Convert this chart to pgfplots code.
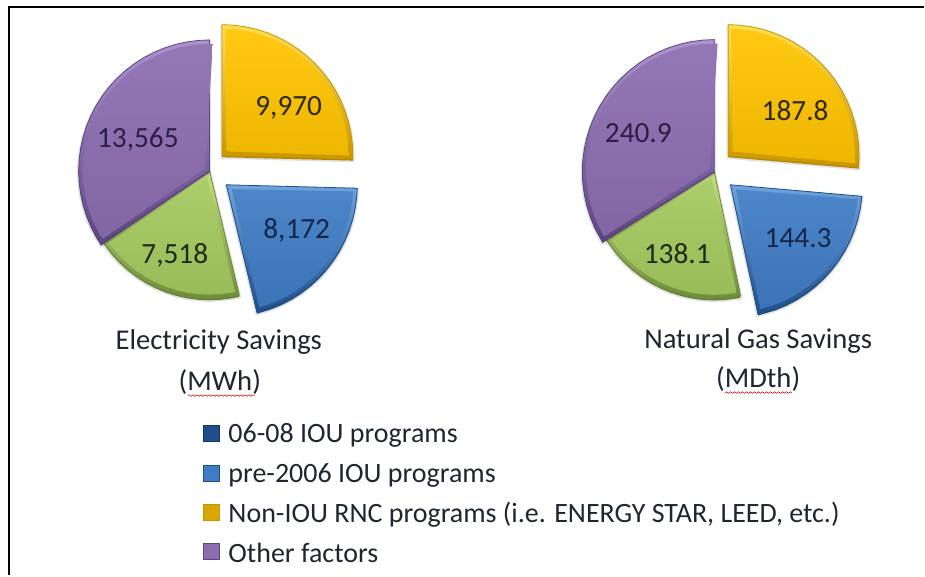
\documentclass[border=0pt]{standalone}
\usepackage{pgfplots}
\pgfplotsset{compat=1.18}
\usepackage{fontspec}
\usetikzlibrary{decorations.pathmorphing}
\setmainfont{Carlito}
\definecolor{txt}{HTML}{1F2630}
\definecolor{yl}{HTML}{FFC400}\definecolor{ylL}{HTML}{FFDE50}\definecolor{ylD}{HTML}{C99600}
\definecolor{bl}{HTML}{3F7CC4}\definecolor{blL}{HTML}{6FA3DE}\definecolor{blD}{HTML}{1F4F8A}
\definecolor{gr}{HTML}{A5C95F}\definecolor{grL}{HTML}{C6E080}\definecolor{grD}{HTML}{6F8C3A}
\definecolor{pu}{HTML}{8C6DB0}\definecolor{puL}{HTML}{AD92CE}\definecolor{puD}{HTML}{5C4680}
\definecolor{lY}{HTML}{2E2A12}\definecolor{lB}{HTML}{14264A}\definecolor{lG}{HTML}{1E2A14}\definecolor{lP}{HTML}{2C1F45}
% one pixel of the reference = 0.75pt
\pgfplotsset{
 wedge/.style n args={2}{preaction={draw=black,draw opacity=.12,line width=2.5pt,transform canvas={yshift=-1.2pt}},draw=#2,line width=0.6pt,top color=#1,bottom color=#2,forget plot},
 core/.style={draw=none,top color=#1!93!white,bottom color=#1!93!black,forget plot},
 ey/.style={xshift=166.7pt,yshift=315.2pt},
 eb/.style={xshift=170pt,yshift=293.25pt},
 ec/.style={xshift=157.3pt,yshift=303.75pt},
 gy/.style={xshift=546.75pt,yshift=315.2pt},
 gb/.style={xshift=548.5pt,yshift=293.25pt},
 gc/.style={xshift=536.25pt,yshift=303.25pt},
}
\begin{document}
\begin{tikzpicture}
\begin{axis}[x=0.75pt,y=0.75pt,xmin=0,xmax=925,ymin=0,ymax=576,
  scale only axis,hide axis,clip=false,anchor=origin,at={(0,0)}]
% page extent
\addplot[draw=none,forget plot] coordinates {(0,0)(925,576)};
% frame
\addplot[black,line width=1.5pt,forget plot] coordinates {(9,0)(9,569)(925,569)};
% ---------- Electricity: yellow 9,970
\addplot[ey,data cs=polar,wedge={ylL}{ylD}] coordinates {(0,0)(90,131)(85,131)(80,131)(75,131)(70,131)(65,131)(60,131)(55,131)(50,131)(45,131)(40,131)(35,131)(30,131)(25,131)(20,131)(15,131)(10,131)(5,131)(0,131)(-1.5,131)} -- cycle;
\addplot[ey,data cs=polar,core=yl] coordinates {(44,6)(88.5,127)(85,127)(80,127)(75,127)(70,127)(65,127)(60,127)(55,127)(50,127)(45,127)(40,127)(35,127)(30,127)(25,127)(20,127)(15,127)(10,127)(5,127)(0,127)} -- cycle;
% ---------- Electricity: blue 8,172
\addplot[eb,data cs=polar,wedge={blL}{blD}] coordinates {(0,0)(-1.5,131)(-5,131)(-10,131)(-15,131)(-20,131)(-25,131)(-30,131)(-35,131)(-40,131)(-45,131)(-50,131)(-55,131)(-60,131)(-65,131)(-70,131)(-76.5,131)} -- cycle;
\addplot[eb,data cs=polar,core=bl] coordinates {(-39,7)(-3,127)(-5,127)(-10,127)(-15,127)(-20,127)(-25,127)(-30,127)(-35,127)(-40,127)(-45,127)(-50,127)(-55,127)(-60,127)(-65,127)(-70,127)(-75,127)} -- cycle;
% ---------- Electricity: green 7,518
\addplot[ec,data cs=polar,wedge={grL}{grD}] coordinates {(0,0)(-76.5,128)(-80,128)(-85,128)(-90,128)(-95,128)(-100,128)(-105,128)(-110,128)(-115,128)(-120,128)(-125,128)(-130,128)(-135,128)(-140,128)(-146,128)} -- cycle;
\addplot[ec,data cs=polar,core=gr] coordinates {(-111,7)(-78,124)(-80,124)(-85,124)(-90,124)(-95,124)(-100,124)(-105,124)(-110,124)(-115,124)(-120,124)(-125,124)(-130,124)(-135,124)(-140,124)(-144.5,124)} -- cycle;
% ---------- Electricity: purple 13,565
\addplot[ec,data cs=polar,wedge={puL}{puD}] coordinates {(0,0)(90,131)(95,131)(100,131)(105,131)(110,131)(115,131)(120,131)(125,131)(130,131)(135,131)(140,131)(145,131)(150,131)(155,131)(160,131)(165,131)(170,131)(175,131)(180,131)(185,131)(190,131)(195,131)(200,131)(205,131)(210,131)(214,131)} -- cycle;
\addplot[ec,data cs=polar,core=pu] coordinates {(152,5)(88.5,127)(95,127)(100,127)(105,127)(110,127)(115,127)(120,127)(125,127)(130,127)(135,127)(140,127)(145,127)(150,127)(155,127)(160,127)(165,127)(170,127)(175,127)(180,127)(185,127)(190,127)(195,127)(200,127)(205,127)(210,127)(212.5,127)} -- cycle;
% ---------- Gas: yellow 187.8
\addplot[gy,data cs=polar,wedge={ylL}{ylD}] coordinates {(0,0)(90,131)(85,131)(80,131)(75,131)(70,131)(65,131)(60,131)(55,131)(50,131)(45,131)(40,131)(35,131)(30,131)(25,131)(20,131)(15,131)(10,131)(5,131)(0,131)(-5,131)} -- cycle;
\addplot[gy,data cs=polar,core=yl] coordinates {(42,6)(88.5,127)(85,127)(80,127)(75,127)(70,127)(65,127)(60,127)(55,127)(50,127)(45,127)(40,127)(35,127)(30,127)(25,127)(20,127)(15,127)(10,127)(5,127)(0,127)(-3.5,127)} -- cycle;
% ---------- Gas: blue 144.3
\addplot[gb,data cs=polar,wedge={blL}{blD}] coordinates {(0,0)(-5,132)(-10,132)(-15,132)(-20,132)(-25,132)(-30,132)(-35,132)(-40,132)(-45,132)(-50,132)(-55,132)(-60,132)(-65,132)(-70,132)(-78,132)} -- cycle;
\addplot[gb,data cs=polar,core=bl] coordinates {(-41,7)(-6.5,128)(-10,128)(-15,128)(-20,128)(-25,128)(-30,128)(-35,128)(-40,128)(-45,128)(-50,128)(-55,128)(-60,128)(-65,128)(-70,128)(-76.5,128)} -- cycle;
% ---------- Gas: green 138.1
\addplot[gc,data cs=polar,wedge={grL}{grD}] coordinates {(0,0)(-78,127.5)(-80,127.5)(-85,127.5)(-90,127.5)(-95,127.5)(-100,127.5)(-105,127.5)(-110,127.5)(-115,127.5)(-120,127.5)(-125,127.5)(-130,127.5)(-135,127.5)(-140,127.5)(-148,127.5)} -- cycle;
\addplot[gc,data cs=polar,core=gr] coordinates {(-113,7)(-79.5,123.5)(-85,123.5)(-90,123.5)(-95,123.5)(-100,123.5)(-105,123.5)(-110,123.5)(-115,123.5)(-120,123.5)(-125,123.5)(-130,123.5)(-135,123.5)(-140,123.5)(-146.5,123.5)} -- cycle;
% ---------- Gas: purple 240.9
\addplot[gc,data cs=polar,wedge={puL}{puD}] coordinates {(0,0)(90,132)(95,132)(100,132)(105,132)(110,132)(115,132)(120,132)(125,132)(130,132)(135,132)(140,132)(145,132)(150,132)(155,132)(160,132)(165,132)(170,132)(175,132)(180,132)(185,132)(190,132)(195,132)(200,132)(205,132)(212,132)} -- cycle;
\addplot[gc,data cs=polar,core=pu] coordinates {(151,5)(88.5,128)(95,128)(100,128)(105,128)(110,128)(115,128)(120,128)(125,128)(130,128)(135,128)(140,128)(145,128)(150,128)(155,128)(160,128)(165,128)(170,128)(175,128)(180,128)(185,128)(190,128)(195,128)(200,128)(205,128)(210.5,128)} -- cycle;
% data labels
\node[font=\fontsize{22}{24}\selectfont,text=lY] at (axis cs:289,468) {9,970};
\node[font=\fontsize{22}{24}\selectfont,text=lB] at (axis cs:297,345) {8,172};
\node[font=\fontsize{22}{24}\selectfont,text=lG] at (axis cs:175,320) {7,518};
\node[font=\fontsize{22}{24}\selectfont,text=lP] at (axis cs:138,436) {13,565};
\node[font=\fontsize{22}{24}\selectfont,text=lY] at (axis cs:796,465) {187.8};
\node[font=\fontsize{22}{24}\selectfont,text=lB] at (axis cs:799,338) {144.3};
\node[font=\fontsize{22}{24}\selectfont,text=lG] at (axis cs:678,322) {138.1};
\node[font=\fontsize{22}{24}\selectfont,text=lP] at (axis cs:639,443) {240.9};
% captions
\node[font=\fontsize{21.5}{24}\selectfont,text=txt] at (axis cs:219,234) {Electricity Savings};
\node[font=\fontsize{21.5}{24}\selectfont,text=txt] at (axis cs:220,194) {(MWh)};
\node[font=\fontsize{21.5}{24}\selectfont,text=txt] at (axis cs:759,235) {Natural Gas Savings};
\node[font=\fontsize{21.5}{24}\selectfont,text=txt] at (axis cs:759,197) {(MDth)};
\draw[red!75!black,line width=0.4pt,decorate,decoration={snake,amplitude=0.6pt,segment length=3pt}] (axis cs:188,180) -- (axis cs:255,180);
\draw[red!75!black,line width=0.4pt,decorate,decoration={snake,amplitude=0.6pt,segment length=3pt}] (axis cs:726,183) -- (axis cs:793,183);
% legend
\addplot[only marks,mark=square*,mark size=6pt,mark options={fill=blD,draw=blD!70!black}] coordinates {(211.5,142)};
\addplot[only marks,mark=square*,mark size=6pt,mark options={fill=bl,draw=blD}] coordinates {(211.5,102)};
\addplot[only marks,mark=square*,mark size=6pt,mark options={fill=yl!85!black,draw=ylD}] coordinates {(211.5,63)};
\addplot[only marks,mark=square*,mark size=6pt,mark options={fill=pu,draw=puD}] coordinates {(211.5,24)};
\node[anchor=west,font=\fontsize{21}{24}\selectfont,text=txt] at (axis cs:224,140) {06-08 IOU programs};
\node[anchor=west,font=\fontsize{21}{24}\selectfont,text=txt] at (axis cs:224,100) {pre-2006 IOU programs};
\node[anchor=west,font=\fontsize{21}{24}\selectfont,text=txt] at (axis cs:224,61) {Non-IOU RNC programs (i.e. ENERGY STAR, LEED, etc.)};
\node[anchor=west,font=\fontsize{21}{24}\selectfont,text=txt] at (axis cs:224,23) {Other factors};
\end{axis}
\end{tikzpicture}
\end{document}
